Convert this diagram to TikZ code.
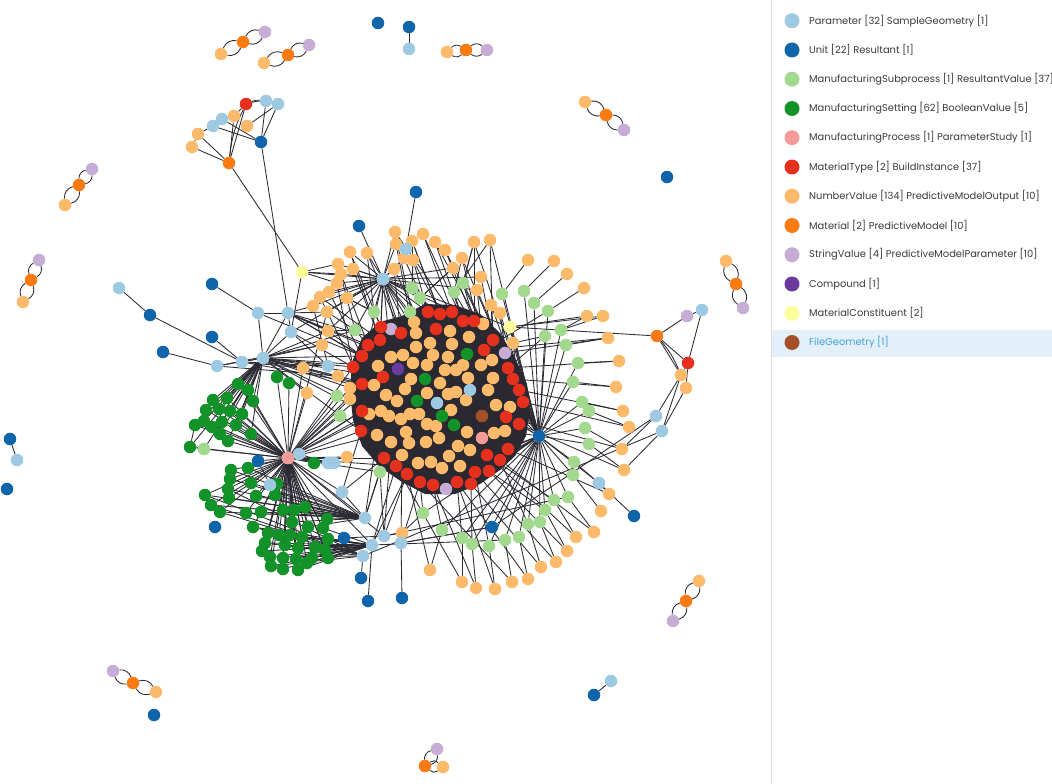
\documentclass[tikz,border=0pt]{standalone}
\usepackage{fontspec}
\newfontfamily\legfont{Poppins}
\pgfdeclarelayer{bg}
\pgfsetlayers{bg,main}
\definecolor{cPar}{HTML}{9DCAE2}
\definecolor{cUnit}{HTML}{0F64AA}
\definecolor{cSub}{HTML}{A2D98F}
\definecolor{cSet}{HTML}{14922A}
\definecolor{cProc}{HTML}{F59C99}
\definecolor{cMatT}{HTML}{E6301E}
\definecolor{cNum}{HTML}{FDBA6B}
\definecolor{cMat}{HTML}{FC7A12}
\definecolor{cStr}{HTML}{C5ADD6}
\definecolor{cComp}{HTML}{6A3A9E}
\definecolor{cCons}{HTML}{FDFD9C}
\definecolor{cFile}{HTML}{A4512A}
\definecolor{cEdge}{HTML}{2C2B33}
\definecolor{cBlob}{HTML}{2A2932}
\definecolor{cHi}{HTML}{E3F0F9}
\definecolor{cTxt}{HTML}{3A3A3A}
\definecolor{cLink}{HTML}{45A2DC}
\definecolor{cDiv}{HTML}{E0E0E0}
\newcommand\dedge[2]{\draw[ed] (#1) to[bend left=40] (#2);\draw[ed] (#1) to[bend right=40] (#2);}
\begin{document}
\begin{tikzpicture}[x=1pt,y=-1pt,
  nd/.style={circle,inner sep=0pt,minimum size=12.5pt,draw=none},
  nPar/.style={nd,fill=cPar}, nUnit/.style={nd,fill=cUnit},
  nSub/.style={nd,fill=cSub}, nSet/.style={nd,fill=cSet},
  nProc/.style={nd,fill=cProc}, nMatT/.style={nd,fill=cMatT},
  nNum/.style={nd,fill=cNum}, nMat/.style={nd,fill=cMat},
  nStr/.style={nd,fill=cStr}, nComp/.style={nd,fill=cComp},
  nCons/.style={nd,fill=cCons}, nFile/.style={nd,fill=cFile},
  ed/.style={draw=cEdge,line width=0.85pt},
  legdot/.style={circle,inner sep=0pt,minimum size=15pt,draw=none},
  legtxt/.style={anchor=west,inner sep=0pt,font=\legfont\fontsize{9.9}{12}\selectfont,text=cTxt}]
\useasboundingbox (0,0) rectangle (1052,784);
\begin{pgfonlayer}{bg}
\fill[white] (0,0) rectangle (1052,784);
\fill[cHi] (771,330) rectangle (1052,357);
\draw[cDiv,line width=1pt] (771,0) -- (771,784);
\end{pgfonlayer}
% ---------------- legend ----------------
\node[legdot,fill=cPar]  (L0)  at (792,20.7) {};
\node[legdot,fill=cUnit] (L1)  at (792,50.0) {};
\node[legdot,fill=cSub]  (L2)  at (792,79.2) {};
\node[legdot,fill=cSet]  (L3)  at (792,108.5) {};
\node[legdot,fill=cProc] (L4)  at (792,137.7) {};
\node[legdot,fill=cMatT] (L5)  at (792,167.0) {};
\node[legdot,fill=cNum]  (L6)  at (792,196.2) {};
\node[legdot,fill=cMat]  (L7)  at (792,225.5) {};
\node[legdot,fill=cStr]  (L8)  at (792,254.7) {};
\node[legdot,fill=cComp] (L9)  at (792,284.0) {};
\node[legdot,fill=cCons] (L10) at (792,313.2) {};
\node[legdot,fill=cFile] (L11) at (792,342.5) {};
\node[legtxt] (T0)  at (809,20.7)  {Parameter [32] SampleGeometry [1]};
\node[legtxt] (T1)  at (809,50.0)  {Unit [22] Resultant [1]};
\node[legtxt] (T2)  at (809,79.2)  {ManufacturingSubprocess [1] ResultantValue [37]};
\node[legtxt] (T3)  at (809,108.5) {ManufacturingSetting [62] BooleanValue [5]};
\node[legtxt] (T4)  at (809,137.7) {ManufacturingProcess [1] ParameterStudy [1]};
\node[legtxt] (T5)  at (809,167.0) {MaterialType [2] BuildInstance [37]};
\node[legtxt] (T6)  at (809,196.2) {NumberValue [134] PredictiveModelOutput [10]};
\node[legtxt] (T7)  at (809,225.5) {Material [2] PredictiveModel [10]};
\node[legtxt] (T8)  at (809,254.7) {StringValue [4] PredictiveModelParameter [10]};
\node[legtxt] (T9)  at (809,284.0) {Compound [1]};
\node[legtxt] (T10) at (809,313.2) {MaterialConstituent [2]};
\node[legtxt,text=cLink] (T11) at (809,342.5) {FileGeometry [1]};
% ---------------- nodes ----------------
% number values
\foreach \n/\x/\y in {t1/395/232,t2/423/234,t3/396/244,t4/412/241,t5/404/258,t6/413/260,t7/435/242,t8/445/250,t9/474/242,t10/490/240,t11/462/258,t12/453/268,t13/481/277,t16/350/252,t17/367/253,t18/338/264,t19/353/269,t20/341/274,t21/394/269,t22/337/283,t23/329/292,t24/320/297,t25/347/298,t26/313/306,t27/327/312,t28/328/331,t29/477/290,t30/491/305,t31/500/313,t32/483/324,t33/414/322,t34/513/343}
  \node[nNum] (\n) at (\x,\y) {};
\foreach \n/\x/\y in {f1/528/260,f2/554/261,f3/567/274,f4/584/288,f5/587/316,f6/603/316,f7/608/338,f8/619/361,f9/616/387,f10/623/411,f11/629/427,f12/622/449,f13/624/470,f14/609/494,f15/601/511,f16/594/532,f17/576/537,f18/567/551,f19/556/562,f20/541/567,f21/528/579,f22/512/582,f23/495/589,f24/476/588,f25/462/582,f26/430/570}
  \node[nNum] (\n) at (\x,\y) {};
\foreach \n/\x/\y in {l10/303/368,l12/338/376,l13/322/345,l14/307/393,l17/350/388,l18/350/399,l24/347/457,bo/402/533,rlo1/681/375,rlo2/686/388,ko1/234/116,ko2/198/134,ko3/192/147,ko4/247/126}
  \node[nNum] (\n) at (\x,\y) {};
\foreach \n/\x/\y in {i1/416/333,i2/450/331,i3/469/337,i4/430/343,i5/416/347,i6/452/344,i7/391/357,i8/403/355,i9/433/355,i10/448/357,i11/463/365,i12/481/365,i13/492/360,i14/378/366,i15/413/363,i16/427/365,i17/445/370,i18/456/370,i19/411/379,i20/440/383,i21/468/378,i22/493/378,i23/374/385,i24/405/389,i25/427/393,i26/448/394,i27/456/392,i28/488/390,i29/386/395,i30/397/401,i31/466/400,i32/496/405,i33/510/407,i34/369/414,i35/381/411,i36/389/416,i37/401/419,i38/410/414,i39/419/414,i40/427/424,i41/436/426,i42/451/410,i43/467/432,i45/494/433,i46/505/431,i47/377/435,i48/391/442,i49/406/432,i50/409/443,i51/426/442,i52/439/438,i53/458/446,i54/470/450,i55/402/455,i56/418/463,i57/431/462,i58/442/468,i59/449/456,i60/460/466}
  \node[nNum] (\n) at (\x,\y) {};
\foreach \n/\x/\y in {sA1/221/54,sB1/264/63,sC1/447/52,sD1/585/102,sE1/726/261,sF1/699/581,sG1/23/302,sH1/65/205,sI1/156/692,sJ1/443/767}
  \node[nNum] (\n) at (\x,\y) {};
% material (orange)
\foreach \n/\x/\y in {sA2/243/42,sB2/288/55,sC2/466/50,sD2/606/115,sE2/736/284,sF2/686/601,sG2/31/280,sH2/79/185,sI2/133/683,sJ2/425/766,ro/657/336,kor/229/163}
  \node[nMat] (\n) at (\x,\y) {};
% string values
\foreach \n/\x/\y in {sA3/265/32,sB3/309/45,sC3/487/50,sD3/624/130,sE3/743/308,sF3/673/621,sG3/39/260,sH3/92/169,sI3/113/671,sJ3/437/749,rlav/687/316,v1/391/329,v2/505/353,v3/446/489}
  \node[nStr] (\n) at (\x,\y) {};
% material type / build instance (red)
\foreach \n/\x/\y in {r1/428/312,r2/440/314,r3/452/312,r4/463/321,r5/474/321,r6/493/340,r7/484/350,r8/508/368,r9/513/379,r10/519/390,r11/523/402,r12/506/417,r13/519/424,r14/508/449,r15/487/455,r16/500/460,r17/489/471,r18/475/472,r19/471/484,r20/457/482,r21/433/485,r22/420/482,r23/407/474,r24/396/466,r25/384/458,r26/361/431,r27/362/411,r28/362/384,r29/353/367,r30/383/377,r31/362/356,r32/368/345,r33/380/340,r35/381/327,r36/401/333,r37/436/329,rred/688/363,kr/246/104}
  \node[nMatT] (\n) at (\x,\y) {};
% settings (dark green)
\foreach \n/\x/\y in {s1/238/384,s2/248/390,s3/213/400,s4/227/398,s5/253/401,s6/206/410,s7/219/409,s8/230/411,s9/242/414,s10/195/425,s11/204/421,s12/212/427,s13/222/422,s14/236/425,s15/220/434,s16/228/441,s17/251/434,s18/190/447,s19/277/377,s20/289/383,s21/314/463,s22/231/470,s23/248/468,s24/230/479,s25/251/483,s26/228/489,s27/229/498,s28/205/495,s29/256/496,s30/277/484,s31/275/495,s32/211/505,s33/220/512,s34/246/513,s35/261/512,s36/283/510,s37/294/510,s38/305/507,s39/292/522,s40/308/527,s41/327/519,s42/253/527,s43/268/533,s44/279/535,s45/290/535,s46/302/537,s47/323/528,s48/328/539,s49/265/543,s50/262/551,s51/285/545,s52/298/548,s53/315/547,s54/325/550,s55/270/557,s56/283/558,s57/296/559,s58/312/558,s59/328/558,s60/271/566,s61/283/569,s62/298/570,s63/307/563,gi1/467/354,gi2/425/379,gi3/417/401,gi4/442/416,gi5/454/425}
  \node[nSet] (\n) at (\x,\y) {};
% subprocess / resultant values (light green)
\foreach \n/\x/\y in {u1/412/288,u2/420/298,u3/454/292,u4/463/283,u5/374/312,u6/410/312,u7/355/330,u8/502/294,u9/524/291,u10/534/303,u11/548/311,u12/545/336,g1/561/330,g2/566/345,g3/578/363,g4/573/382,g5/582/402,g6/589/411,g7/585/428,g8/589/444,g9/574/462,g10/573/475,g11/568/497,g12/554/500,g13/545/510,g14/540/522,g15/528/524,g16/519/537,g17/505/540,g18/489/546,g19/472/544,g20/462/538,g21/442/530,g22/423/513,l15/337/396,l16/340/416,l19/204/449,lgA/380/472}
  \node[nSub] (\n) at (\x,\y) {};
% parameters (light blue)
\foreach \n/\x/\y in {H1/383/279,H4/263/358,H5/288/313,tb/406/249,l1/119/288,l4/258/313,l5/291/332,l8/217/366,l9/242/362,l11/328/366,l20/299/454,l22/328/463,l23/334/463,l25/270/485,l27/342/492,q1/365/518,q2/384/536,q3/372/545,q4/363/556,q5/401/543,fb/599/483,rlb/702/310,rlb1/656/416,rlb2/662/431,kb1/266/101,kb2/278/104,kb3/222/119,kb4/213/126,p1/470/390,p2/437/403,xb1/409/49,xb2/17/460,xb3/611/681}
  \node[nPar] (\n) at (\x,\y) {};
% units (dark blue)
\foreach \n/\x/\y in {H2/539/436,tdb1/416/192,tdb2/359/226,l2/150/315,l3/212/284,l6/212/337,l7/163/352,l21/258/461,l26/215/527,bdb1/344/538,bdb2/361/578,bdb3/368/601,bdb4/402/598,fdb/634/516,fdb2/492/527,rdb/667/177,kdb/261/142,ud1/378/23,ud2/409/27,ud3/10/439,ud4/7/489,ud5/154/715,ud6/594/695}
  \node[nUnit] (\n) at (\x,\y) {};
\node[nProc] (H3) at (288,458) {};
\node[nProc] (pk) at (482,438) {};
\node[nCons] (Y1) at (302,272) {};
\node[nCons] (Y2) at (510,327) {};
\node[nComp] (cp) at (398,369) {};
\node[nFile] (fgm) at (482,416) {};
% ---------------- edges ----------------
\begin{pgfonlayer}{bg}
% stray groups
\dedge{sA1}{sA2}\dedge{sA2}{sA3}
\dedge{sB1}{sB2}\dedge{sB2}{sB3}
\dedge{sC1}{sC2}\dedge{sC2}{sC3}
\dedge{sD1}{sD2}\dedge{sD2}{sD3}
\dedge{sE1}{sE2}\dedge{sE2}{sE3}
\dedge{sF1}{sF2}\dedge{sF2}{sF3}
\dedge{sG1}{sG2}\dedge{sG2}{sG3}
\dedge{sH1}{sH2}\dedge{sH2}{sH3}
\dedge{sI1}{sI2}\dedge{sI2}{sI3}
\dedge{sJ3}{sJ2}\dedge{sJ2}{sJ1}
\foreach \a/\b in {ud2/xb1,ud3/xb2,ud6/xb3}
  \draw[ed] (\a) -- (\b);
% top-left cluster
\draw[ed] (kr) to[bend left=15] (kb1);
\draw[ed] (kr) to[bend left=15] (kb2);
\draw[ed] (kr) to[bend right=10] (kor);
\foreach \a/\b in {kr/ko1,ko1/kb3,kb3/kb4,kb4/ko2,ko2/ko3,kr/kor,ko1/kor,kb3/kdb,kb4/kdb,ko2/kor,ko3/kor,ko4/kb2,kb1/kdb,kb2/kdb,kor/Y1,kdb/H5}
  \draw[ed] (\a) -- (\b);
% left side
\foreach \a/\b in {l1/l2,l2/l9,l3/l4,l6/l9,l7/l8,l8/H4,l9/H4,l4/H5,l4/H4,H5/l5,H5/H4,l5/H4,l5/l11,l5/r29,H5/r32,H5/r33,H5/r31,H5/t27,H5/t26,H5/t28,H5/i7,H5/i14,Y1/t22,Y1/t20,Y1/t18,Y1/H1,Y1/l5,l4/r31,l9/l11,l9/r28,l8/l12,H4/r27,H4/i29,H4/r30,l9/l10,l8/l13}
  \draw[ed] (\a) -- (\b);
\foreach \b in {s1,s2,s3,s4,s5,s6,s7,s8,s9,s10,s11,s12,s13,s14,s15,s16,s17,s18,l19,l10,l11,l13,l12,l17,l18,r31,r28,r26,u7,t28,i14,i23,r29,l14}
  \draw[ed] (H4) -- (\b);
\foreach \b in {s1,s2,s3,s4,s5,s6,s7,s8,s9,s10,s11,s12,s13,s14,s15,s16,s17,s18,s19,s20,s21,s22,s23,s24,s25,s26,s27,s28,s29,s30,s31,s32,s33,s34,s35,s36,s37,s38,s39,s40,s41,s42,s43,s44,s45,s46,s47,s48,s49,s50,s51,s52,s53,s54,s55,s56,s57,s58,s59,s60,s61,s62,s63,l19,l20,l21,l25,l22,l23,l24,l14,l15,l16,l10,r24,r25,r26,r27,r28,i34,i47,i29,q1,q2,q3,lgA,l27,t27,i35,i23,r29,l18,l17}
  \draw[ed] (H3) -- (\b);
\foreach \b in {s22,s23,s24,s25,s26,s27,s28,s29,s30,s31,s32,s33,s34,s35,s36,s37,s38,s39,s40,s41}
  \draw[ed] (q1) -- (\b);
\foreach \b in {s42,s43,s44,s45,s46,s47,s48,s49,s50,s51,s52,s53,s54,s55,s56,s57,s58,s59,s60,s61,s62,s63}
  \draw[ed] (q3) -- (\b);
\foreach \b in {s49,s55,s60,s42,s28,s32,s26,s33}
  \draw[ed] (q4) -- (\b);
\foreach \a/\b in {s18/l19,s18/s10,l25/l21,s19/s20,l20/l22}
  \draw[ed] (\a) -- (\b);
% bottom light-blue cluster
\foreach \a/\b in {q4/bdb2,q3/bdb3,q5/bdb4,bdb1/q2,q1/r25,q2/r23,q5/r22,q3/r24,q2/lgA,q1/lgA,q1/l27,q2/bo,bo/q5,q4/rlb2,q5/fdb2,q3/g17,q2/g11,l27/r26,l27/r25,q1/i47,q2/i48,q5/i55,q3/r23}
  \draw[ed] (\a) -- (\b);
% top hub
\foreach \b in {tdb2,t1,t3,t5,t16,t17,t18,t19,t20,t21,t22,t23,t24,t25,t26,t27,t28,t12,t13,t29,t32,u1,u2,u5,u6,u7,l5,r1,r32,r33,r35,r36,r37,i1,i4,i5,i7,i8,Y2}
  \draw[ed] (H1) -- (\b);
\foreach \a/\b in {tdb1/tb,tb/t5,t2/r3,t4/r2,t6/r1,t7/r4,t8/r5,t9/u4,t10/u3,t11/r7,t12/u2,t16/r35,t17/r36,t19/r33,t20/r32,t22/r29,t23/r31,t24/r28,t26/l11,t25/u5,t33/u6,t1/i1,t3/i5,t21/i8,u1/t4,u1/t6,u2/t12,u3/t11,u4/t9,u5/t25,u6/t33,u7/t28,u8/f1,u9/f2,u10/f3,u11/f4,u12/t34,t7/H2,t8/H2,t2/r4,t10/r6,t9/r5,t11/H2,t13/r6,t29/r7,t30/r6,t31/r8,t32/r9,t34/r10,u3/r4,u4/r5,u1/r1,u2/r2,u6/i2,u5/r35,u7/r32,t18/u7,t24/r33,t27/u7,t28/r31,t5/r37,t6/i2,t21/i4,t1/H2,t4/i6,t16/r33,t17/u5}
  \draw[ed] (\a) -- (\b);
% right hub
\foreach \b in {g1,g2,g3,g4,g5,g6,g7,g8,g9,g10,g11,g12,g13,g14,g15,g16,g17,g18,g19,g20,g21,g22,u8,u9,u10,u11,u12,t29,t30,t31,t32,t34,fdb2,r6,r8,r9,r10,r11,r12,r13,r14,r15,r16,r17,r18,r19,i33,i46,Y2,fb,v2,u3,u4,t9,t10}
  \draw[ed] (H2) -- (\b);
\foreach \a/\b in {g1/f5,g1/f6,g2/f7,g3/f8,g4/f9,g5/f10,g6/f11,g7/f12,g8/f13,g9/fb,fb/f14,fb/fdb,g10/f15,g11/f16,g12/f17,g13/f18,g14/f19,g15/f20,g16/f21,g17/f22,g18/f23,g19/f24,g20/f25,g21/f26,g22/bo,r7/f7,r8/f8,r9/f9,r10/f10,r11/f11,r12/f12,r13/f13,r14/f14,r16/f16,r17/f18,r18/f19,r19/f20,r20/f21,r21/f24,r22/f22,r23/f26,r24/f25,r15/f17,r20/f23,g22/r22,g21/r21,g20/r20,g19/r19,g18/r18,g12/r15,g13/r17,g15/r16,Y2/f5,Y2/f6,Y2/ro,Y2/t34,Y2/r6,v2/f7,u12/r8,u11/r7}
  \draw[ed] (\a) -- (\b);
% right cluster
\draw[ed] (ro) to[bend left=8] (rlo1);
\foreach \a/\b in {ro/rlav,rlav/rlb,rlb/rred,ro/rred,ro/rlo1,rred/rlo1,rlo1/rlb1,rlo1/rlb2,rlo2/rlb2,rlo2/rred,rlb1/fdb2,fdb2/q5,rlb1/f12,rlb2/f13}
  \draw[ed] (\a) -- (\b);
% blob
\fill[cBlob] (380,322) -- (402,316) -- (425,304) -- (455,305) -- (480,314) -- (500,333) -- (515,358) -- (527,384) -- (530,410) -- (526,436) -- (515,456) -- (500,470) -- (480,484) -- (455,494) -- (425,494) -- (402,482) -- (380,467) -- (362,446) -- (353,420) -- (350,392) -- (352,362) -- (362,338) -- cycle;
\end{pgfonlayer}
\end{tikzpicture}
\end{document}
